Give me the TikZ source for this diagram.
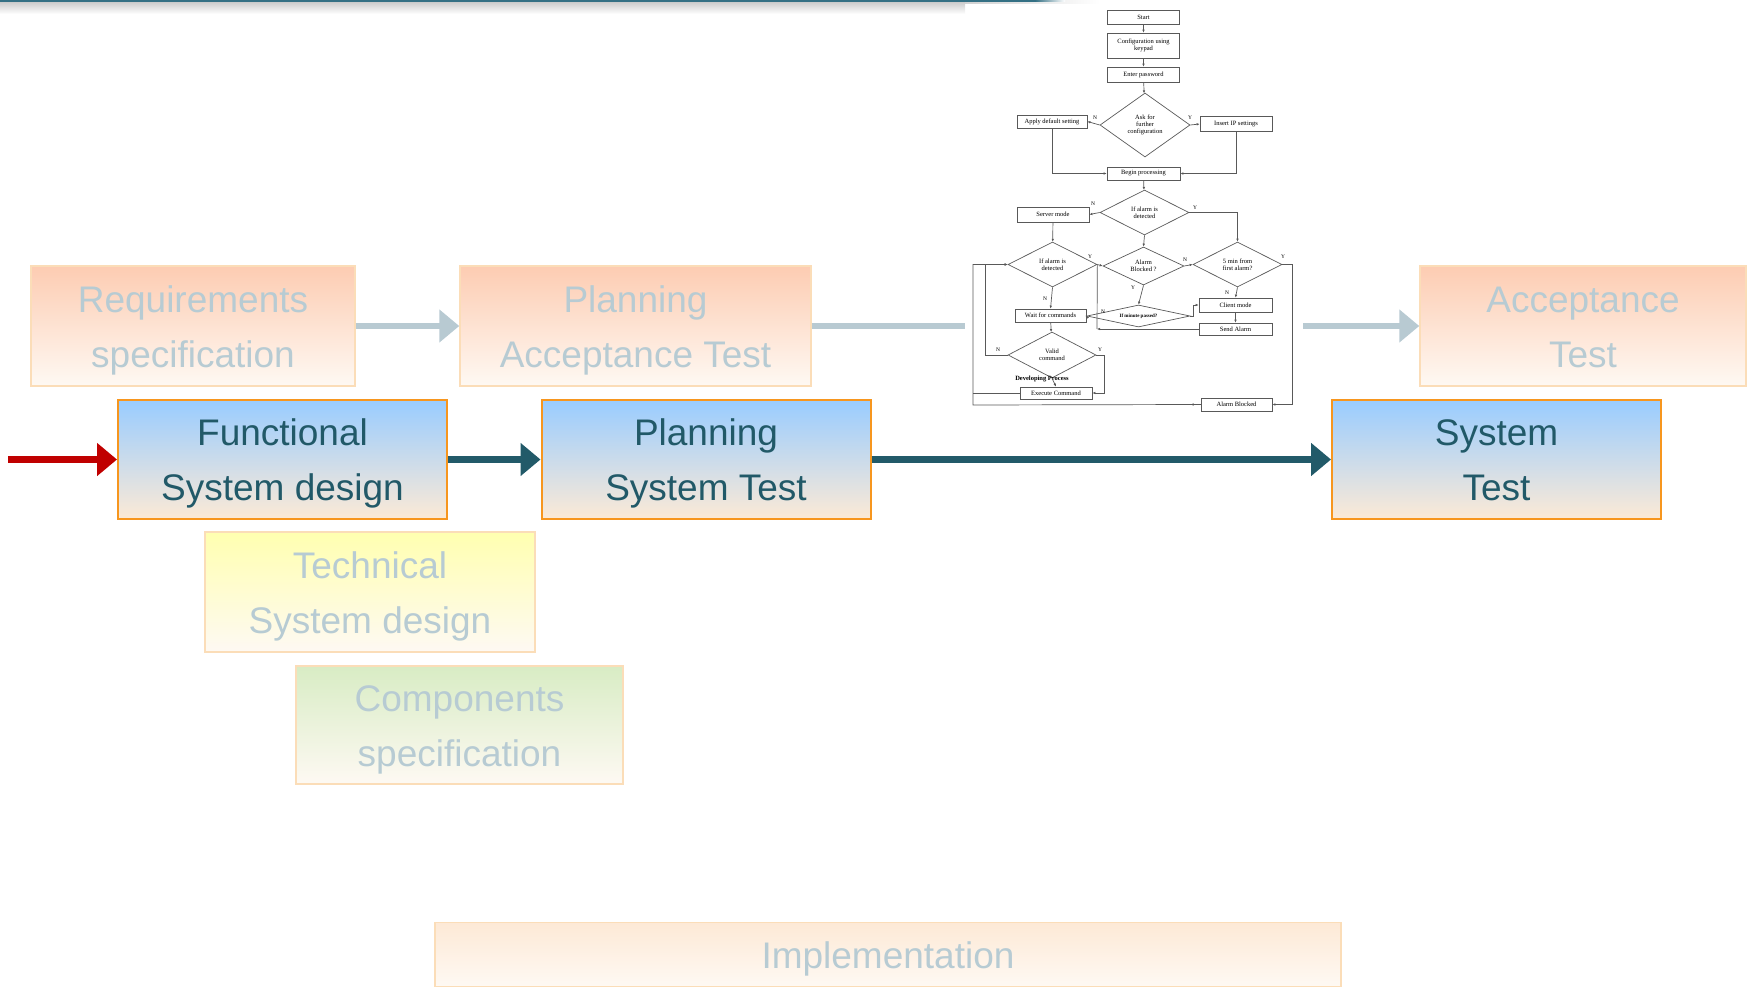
\documentclass[tikz,border=0pt]{standalone}
\usepackage{fontspec}
\setmainfont{Liberation Sans}
\newfontfamily\fcfont{Liberation Serif}
\usetikzlibrary{shapes.geometric,arrows.meta,calc}

\definecolor{tealtext}{RGB}{33,89,104}
\definecolor{tealarrow}{RGB}{34,90,105}
\definecolor{redarrow}{RGB}{192,0,0}
\definecolor{fadetext}{RGB}{183,203,211}
\definecolor{fadeline}{RGB}{184,202,210}
\definecolor{boxblue}{RGB}{153,204,255}
\definecolor{boxpeach}{RGB}{252,234,214}
\definecolor{boxorange}{RGB}{247,150,30}
\definecolor{fadepeach}{RGB}{253,204,178}
\definecolor{fadecream}{RGB}{254,249,243}
\definecolor{fadeborder}{RGB}{251,221,184}
\definecolor{fadeyellow}{RGB}{255,255,176}
\definecolor{fadegreen}{RGB}{216,236,196}
\definecolor{fadelight}{RGB}{253,233,214}
\definecolor{bannerteal}{RGB}{52,112,132}

\tikzset{
  bigfont/.style={font=\fontsize{37}{55}\selectfont, text height=82pt, text depth=0pt},
  activebox/.style={draw=boxorange, line width=2pt, top color=boxblue, bottom color=boxpeach,
    text=tealtext, bigfont, align=center, minimum width=329pt, minimum height=119pt, inner sep=0pt},
  fadebox/.style={draw=fadeborder, line width=1.5pt, top color=#1, bottom color=fadecream,
    text=fadetext, bigfont, align=center, minimum height=120pt, inner sep=0pt},
  bigarrow/.style={line width=7pt, -{Triangle[length=20pt,width=32pt]}},
  fadearrow/.style={line width=6pt, fadeline, -{Triangle[length=20pt,width=32pt]}},
  fcbox/.style={draw=black!65, line width=0.7pt, fill=white, minimum width=72pt, minimum height=13pt,
    inner sep=1pt, align=center, font=\fcfont\fontsize{6.5}{7}\selectfont},
  fcdia/.style={diamond, draw=black!65, line width=0.7pt, inner sep=0pt, align=center,
    font=\fcfont\fontsize{6.5}{7}\selectfont},
  fcline/.style={draw=black!65, line width=0.7pt},
  fcarrow/.style={fcline, -{Latex[length=3pt,width=2.6pt]}},
  fclabel/.style={inner sep=0pt, font=\fcfont\fontsize{5.5}{6}\selectfont}
}

\begin{document}
\begin{tikzpicture}[x=1pt,y=-1pt]
  \useasboundingbox (0,0) rectangle (1749,987);

  % banner at the top
  \shade[top color=black!22, bottom color=white] (0,1) rectangle (965,14);
  \shade[left color=black!18, right color=white] (965,1) rectangle (1100,4);
  \fill[bannerteal] (0,0) rectangle (1035,1.8);
  \shade[left color=bannerteal, right color=white] (1035,0) rectangle (1065,1.8);

  % faded boxes
  \node[fadebox=fadepeach, minimum width=324pt] (req) at (193,326) {Requirements\\specification};
  \node[fadebox=fadepeach, minimum width=351pt] (pat) at (635.5,326) {Planning\\Acceptance Test};
  \node[fadebox=fadepeach, minimum width=326pt] (at) at (1583,326) {Acceptance\\Test};
  \node[fadebox=fadeyellow, minimum width=330pt] (tsd) at (370,592) {Technical\\System design};
  \node[fadebox=fadegreen, minimum width=327pt, minimum height=118pt] (cs) at (459.5,725) {Components\\specification};
  \node[fadebox=fadelight, minimum width=906pt, minimum height=64pt, text height=27pt] (impl) at (888,954.5) {Implementation};

  % active boxes
  \node[activebox] (fsd) at (282.5,459.5) {Functional\\System design};
  \node[activebox] (pst) at (706,459.5) {Planning\\System Test};
  \node[activebox] (st) at (1496.5,459.5) {System\\Test};

  % arrows
  \coordinate (entry) at (8,459.5);
  \coordinate (gapL) at (965,326);
  \coordinate (gapR) at (1303,326);
  \draw[bigarrow, redarrow] (entry) -- (fsd.west);
  \draw[bigarrow, tealarrow] (fsd.east) -- (pst.west);
  \draw[bigarrow, tealarrow] (pst.east) -- (st.west);
  \draw[fadearrow] (req.east) -- (pat.west);
  \draw[fadeline, line width=6pt] (pat.east) -- (gapL);
  \draw[fadearrow] (gapR) -- (at.west);

  % flowchart
  \node[fcbox, minimum height=14pt] (start) at (1143.5,17) {Start};
  \node[fcbox, minimum height=25pt] (config) at (1143.5,45.5) {Configuration using\\keypad};
  \node[fcbox, minimum height=15pt] (enterpw) at (1143.5,74.5) {Enter password};
  \node[fcdia, minimum width=90pt, minimum height=64pt, shape aspect=1.4] (askdia) at (1145,125) {Ask for\\further\\configuration};
  \node[fcbox, minimum width=70pt] (applydef) at (1052,121.5) {Apply default setting};
  \node[fcbox, minimum height=15pt] (insertip) at (1236,124) {Insert IP settings};
  \node[fcbox, minimum width=73pt] (beginproc) at (1143.5,173.5) {Begin processing};
  \node[fcdia, minimum width=89pt, minimum height=45pt, shape aspect=2] (alarmdia) at (1144.5,212.5) {If alarm is\\detected};
  \node[fcbox, minimum height=15pt] (servermode) at (1053,214.5) {Server mode};
  \node[fcdia, minimum width=89pt, minimum height=45pt, shape aspect=2] (leftdia) at (1052.5,264.5) {If alarm is\\detected};
  \node[fcdia, minimum width=81pt, minimum height=38pt, shape aspect=2.1] (blockdia) at (1143.5,266) {Alarm\\Blocked ?};
  \node[fcdia, minimum width=89pt, minimum height=45pt, shape aspect=2] (mindia) at (1237.5,264.5) {5 min from\\first alarm?};
  \node[fcbox, minimum width=71pt] (waitcmd) at (1050.5,315.5) {Wait for commands};
  \node[fcdia, minimum width=103pt, minimum height=22pt, shape aspect=4.7,
    font=\fcfont\bfseries\fontsize{5}{6}\selectfont] (minutedia) at (1138.5,316) {If minute passed?};
  \node[fcbox, minimum width=73pt, minimum height=14pt] (clientmode) at (1235.5,305) {Client mode};
  \node[fcbox, minimum width=73pt, minimum height=12pt] (sendalarm) at (1235.5,329) {Send Alarm};
  \node[fcdia, minimum width=88pt, minimum height=46pt, shape aspect=1.9] (validdia) at (1052,355) {Valid\\command};
  \node[fcbox, minimum height=12pt] (execcmd) at (1056,393) {Execute Command};
  \node[inner sep=0pt, font=\fcfont\bfseries\fontsize{6.5}{7}\selectfont] (devlabel) at (1042,379) {Developing Process};
  \node[fcbox, minimum width=71pt] (alarmblk) at (1236.5,404.5) {Alarm Blocked};

  % flowchart labels
  \node[fclabel] (nAsk) at (1095,118) {N};
  \node[fclabel] (yAsk) at (1190,118) {Y};
  \node[fclabel] (nAlarm) at (1093,204) {N};
  \node[fclabel] (yAlarm) at (1195,208) {Y};
  \node[fclabel] (yLeft) at (1090,257) {Y};
  \node[fclabel] (nLeft) at (1045,299) {N};
  \node[fclabel] (nBlock) at (1185,260) {N};
  \node[fclabel] (yBlock) at (1133,288) {Y};
  \node[fclabel] (yMin) at (1283,257) {Y};
  \node[fclabel] (nMin) at (1227,293) {N};
  \node[fclabel] (nMinute) at (1103,312) {N};
  \node[fclabel] (nValid) at (998,350) {N};
  \node[fclabel] (yValid) at (1100,350) {Y};

  % flowchart connectors
  \coordinate (sendcorner) at (1097,329);
  \coordinate (vloop) at (985,355);
  \coordinate (bigloop) at (973,405);
  \coordinate (rloop) at (1292,264.5);
  \draw[fcarrow] (start) -- (config);
  \draw[fcarrow] (config) -- (enterpw);
  \draw[fcarrow] (enterpw) -- (askdia);
  \draw[fcarrow] (askdia.west) -- (applydef.east);
  \draw[fcarrow] (askdia.east) -- (insertip.west);
  \draw[fcarrow] (applydef.south) |- (beginproc.west);
  \draw[fcarrow] (insertip.south) |- (beginproc.east);
  \draw[fcarrow] (beginproc) -- (alarmdia);
  \draw[fcarrow] (alarmdia.west) -- (servermode.east);
  \draw[fcarrow] (alarmdia.east) -| (mindia.north);
  \draw[fcarrow] (alarmdia.south) -- (blockdia.north);
  \draw[fcarrow] (servermode) -- (leftdia);
  \draw[fcarrow] (leftdia.east) -- (blockdia.west);
  \draw[fcarrow] (blockdia.east) -- (mindia.west);
  \draw[fcarrow] (blockdia.south) -- (minutedia.north);
  \draw[fcarrow] (leftdia.south) -- (waitcmd.north);
  \draw[fcarrow] (minutedia.west) -- (waitcmd.east);
  \draw[fcarrow] (minutedia.east) -- ++(3,0) |- (clientmode.west);
  \draw[fcarrow] (mindia.south) -- (clientmode.north);
  \draw[fcarrow] (clientmode) -- (sendalarm);
  \draw[fcarrow] (sendalarm.west) -- (sendcorner);
  \draw[fcline] (sendcorner) -- (leftdia.east);
  \draw[fcarrow] (waitcmd) -- (validdia);
  \draw[fcarrow] (validdia.west) -- (vloop) |- (leftdia.west);
  \draw[fcarrow] (validdia.east) -- ++(8,0) |- (execcmd.east);
  \draw[fcarrow] (validdia.south) -- (execcmd.north);
  \draw[fcarrow] (mindia.east) -- (rloop) |- (alarmblk.east);
  \draw[fcarrow] (alarmblk.west) -- ++(-10,0);
  \draw[fcarrow] (alarmblk.west) -- (bigloop) |- (leftdia.west);
  \draw[fcline] (execcmd.west) -- (execcmd.west -| bigloop);
\end{tikzpicture}
\end{document}
